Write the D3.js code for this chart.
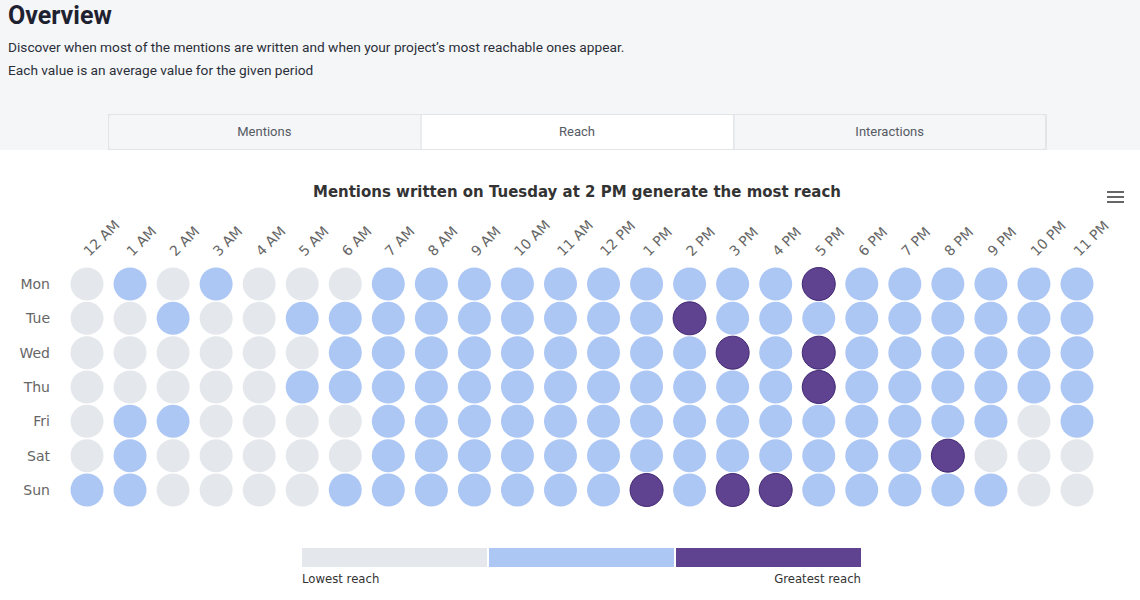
<!DOCTYPE html>
<html><head><meta charset="utf-8">
<script src="https://cdn.jsdelivr.net/npm/d3@7"></script>
<style>
html,body{margin:0;padding:0;background:#fff;}
svg{display:block;}
</style></head>
<body>
<svg id="c" width="1140" height="600"></svg>
<script>
const hours = ["12 AM","1 AM","2 AM","3 AM","4 AM","5 AM","6 AM","7 AM","8 AM","9 AM","10 AM","11 AM","12 PM","1 PM","2 PM","3 PM","4 PM","5 PM","6 PM","7 PM","8 PM","9 PM","10 PM","11 PM"];
const days = ["Mon","Tue","Wed","Thu","Fri","Sat","Sun"];
// reach level per hour: 0 = lowest, 1 = medium, 2 = greatest
const mon = [0,1,0,1,0,0,0,1,1,1,1,1,1,1,1,1,1,2,1,1,1,1,1,1];
const tue = [0,0,1,0,0,1,1,1,1,1,1,1,1,1,2,1,1,1,1,1,1,1,1,1];
const wed = [0,0,0,0,0,0,1,1,1,1,1,1,1,1,1,2,1,2,1,1,1,1,1,1];
const thu = [0,0,0,0,0,1,1,1,1,1,1,1,1,1,1,1,1,2,1,1,1,1,1,1];
const fri = [0,1,1,0,0,0,0,1,1,1,1,1,1,1,1,1,1,1,1,1,1,1,0,1];
const sat = [0,1,0,0,0,0,0,1,1,1,1,1,1,1,1,1,1,1,1,1,2,0,0,0];
const sun = [1,1,0,0,0,0,1,1,1,1,1,1,1,2,1,2,2,1,1,1,1,1,0,0];
const levels = [0,1,2];
const levelColors = ["#e4e7eb","#adc7f5","#5f4290"];
const legendLabels = ["Lowest reach","Greatest reach"];
const tabs = ["Mentions","Reach","Interactions"];
const chartTitle = "Mentions written on Tuesday at 2 PM generate the most reach";

const rows = [mon,tue,wed,thu,fri,sat,sun];
const cells = [];
rows.forEach((r,i)=>r.forEach((v,j)=>cells.push({day:days[i],hour:hours[j],v})));

const svg = d3.select("#c");
// header background
svg.append("rect").attr("x",0).attr("y",0).attr("width",1140).attr("height",150).attr("fill","#f5f6f8");
svg.append("text").attr("x",8).attr("y",24).text("Overview")
  .attr("font-family","Roboto").attr("font-weight","bold").attr("font-size",25).attr("fill","#1e2230");
svg.append("text").attr("x",8).attr("y",52).text("Discover when most of the mentions are written and when your project\u2019s most reachable ones appear.")
  .attr("font-family","Roboto").attr("font-size",13.7).attr("fill","#2b2f38");
svg.append("text").attr("x",8).attr("y",75).text("Each value is an average value for the given period")
  .attr("font-family","Roboto").attr("font-size",13.7).attr("fill","#2b2f38");

// tabs
const tabX = d3.scaleBand().domain(tabs).range([108,1046]);
const tg = svg.append("g");
tg.append("rect").attr("x",108.5).attr("y",114.5).attr("width",937).attr("height",35).attr("rx",3)
  .attr("fill","#f5f6f8").attr("stroke","#e2e4e8");
tg.selectAll("rect.t").data(tabs).join("rect").attr("class","t")
  .attr("x",d=>tabX(d)+0.5).attr("y",114.5).attr("width",tabX.bandwidth()).attr("height",35)
  .attr("fill",d=>d==="Reach"?"#ffffff":"none").attr("stroke","#e2e4e8");
tg.selectAll("text").data(tabs).join("text")
  .attr("x",d=>tabX(d)+tabX.bandwidth()/2).attr("y",136).attr("text-anchor","middle")
  .attr("font-family","Roboto").attr("font-size",13).attr("fill","#555a63").text(d=>d);

// chart title
svg.append("text").attr("x",577).attr("y",197).attr("text-anchor","middle").text(chartTitle)
  .attr("font-family","DejaVu Sans").attr("font-weight","bold").attr("font-size",15).attr("fill","#333")
  .attr("textLength",528).attr("lengthAdjust","spacingAndGlyphs");

// hamburger
[0,5,10].forEach(dy=>svg.append("rect").attr("x",1107).attr("y",191+dy).attr("width",17).attr("height",2).attr("fill","#666"));

// scales
const x = d3.scalePoint().domain(hours).range([87,1077]);
const y = d3.scalePoint().domain(days).range([284,490]);
const color = d3.scaleOrdinal().domain(levels).range(levelColors);

// x axis labels (top, rotated)
const xAxis = d3.axisTop(x).tickSize(0).tickPadding(0);
const gx = svg.append("g").attr("transform","translate(0,257)").call(xAxis);
gx.select(".domain").remove();
gx.selectAll("text").attr("font-family","DejaVu Sans").attr("font-size",14).attr("fill","#666")
  .attr("text-anchor","start").attr("dy",0).attr("y",0).attr("x",0)
  .attr("transform","translate(2,0) rotate(-45)");

// y axis
const yAxis = d3.axisLeft(y).tickSize(0).tickPadding(0);
const gy = svg.append("g").attr("transform","translate(50,0)").call(yAxis);
gy.select(".domain").remove();
gy.selectAll("text").attr("font-family","DejaVu Sans").attr("font-size",14).attr("fill","#666");

// circles
svg.append("g").selectAll("circle").data(cells).join("circle")
  .attr("cx",d=>x(d.hour)).attr("cy",d=>y(d.day)).attr("r",16.5)
  .attr("fill",d=>color(d.v))
  .attr("stroke",d=>d.v===2?"#3f2670":"none").attr("stroke-width",1);

// legend
const lx = d3.scaleBand().domain(levels).range([302,863]);
svg.append("g").selectAll("rect").data(levels).join("rect")
  .attr("x",d=>lx(d)).attr("y",548).attr("width",lx.bandwidth()-2).attr("height",19)
  .attr("fill",d=>color(d));
svg.append("text").attr("x",302).attr("y",583).text(legendLabels[0])
  .attr("font-family","DejaVu Sans").attr("font-size",11.7).attr("fill","#333");
svg.append("text").attr("x",861).attr("y",583).attr("text-anchor","end").text(legendLabels[1])
  .attr("font-family","DejaVu Sans").attr("font-size",11.7).attr("fill","#333");
</script>
</body></html>
